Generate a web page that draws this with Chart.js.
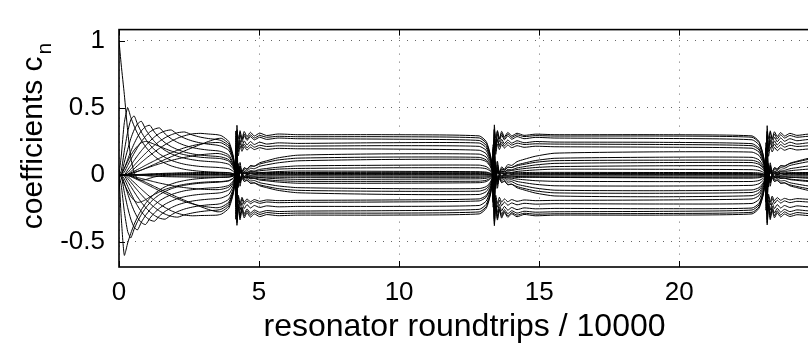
<!DOCTYPE html>
<html lang="en">
<head>
    <meta charset="UTF-8">
    <title>coefficients c_n</title>
    <script src="https://cdn.jsdelivr.net/npm/chart.js"></script>
    <style>
        html, body { margin: 0; padding: 0; background: #fff; overflow: hidden; }
        #grafico { display: block; }
    </style>
</head>
<body>
<canvas id="grafico" width="812" height="343"></canvas>

<script>
// x positions (resonator roundtrips / 10000), shared by every coefficient
const roundtrips = [0, 0.08, 0.19, 0.31, 0.42, 0.54, 0.66, 0.80, 0.95, 1.10, 1.27, 1.45, 1.65, 1.87, 2.10, 2.35, 2.62, 2.90, 3.20, 3.50,
    3.67, 3.92, 4.07, 4.14, 4.17, 4.21, 4.26, 4.32, 4.39, 4.47, 4.57, 4.69, 4.83, 5.02, 5.27, 5.67, 6.37,
    9.5,
    12.86, 13.11, 13.26, 13.33, 13.36, 13.40, 13.45, 13.51, 13.58, 13.66, 13.76, 13.88, 14.02, 14.21, 14.46, 14.86, 15.56,
    19.3,
    22.60, 22.85, 23.00, 23.07, 23.10, 23.14, 23.19, 23.25, 23.32, 23.40, 23.50, 23.62, 23.76, 23.95, 24.20, 24.60, 25.30];

// coefficient values (one array per coefficient)
const c0 = [1.0, 0.82, 0.6, 0.33, 0.13, 0.02, -0.03, -0.04, -0.035, -0.025, -0.015, -0.008, -0.004, -0.001, 0.001, 0.002, 0.003, 0.003, 0.004, 0.004,
    0.004, 0.003, 0.002, 0.001, -0.03, 0.05, -0.02, 0.02, 0.0, 0.01, 0.004, 0.008, 0.005, 0.006, 0.005, 0.005, 0.005,
    0.005,
    0.005, 0.004, 0.002, 0.001, -0.035, 0.045, -0.018, 0.018, 0.001, 0.009, 0.004, 0.007, 0.005, 0.006, 0.005, 0.005, 0.005,
    0.005,
    0.005, 0.004, 0.002, 0.001, -0.03, 0.05, -0.02, 0.02, 0.0, 0.01, 0.004, 0.008, 0.005, 0.006, 0.005, 0.005, 0.005];
const c1 = [0, -0.316, -0.60, -0.508, -0.436, -0.37, -0.314, -0.26, -0.213, -0.175, -0.14, -0.112, -0.088, -0.068, -0.053, -0.042, -0.033, -0.027, -0.023, -0.02,
    -0.019, -0.017, -0.01, -0.003, 0.03, -0.07, 0.021, -0.021, -0.004, -0.012, -0.009, -0.016, -0.015, -0.02, -0.024, -0.029, -0.033,
    -0.032,
    -0.029, -0.025, -0.015, -0.005, 0.045, -0.04, 0.012, -0.012, -0.002, -0.007, -0.005, -0.009, -0.008, -0.012, -0.014, -0.016, -0.019,
    -0.022,
    -0.024, -0.021, -0.013, -0.004, 0.038, -0.06, 0.018, -0.018, -0.003, -0.011, -0.008, -0.014, -0.013, -0.017, -0.02, -0.025, -0.029];
const c2 = [0, 0.14, 0.39, 0.5, 0.43, 0.364, 0.309, 0.256, 0.21, 0.172, 0.138, 0.11, 0.086, 0.067, 0.053, 0.041, 0.033, 0.027, 0.023, 0.02,
    0.019, 0.017, 0.01, 0.003, -0.03, 0.06, -0.018, 0.018, 0.003, 0.011, 0.008, 0.014, 0.013, 0.017, 0.02, 0.025, 0.029,
    0.027,
    0.024, 0.021, 0.013, 0.004, -0.038, 0.09, -0.027, 0.027, 0.005, 0.016, 0.011, 0.02, 0.019, 0.026, 0.031, 0.037, 0.043,
    0.042,
    0.039, 0.033, 0.02, 0.007, -0.06, 0.04, -0.012, 0.012, 0.002, 0.007, 0.005, 0.009, 0.008, 0.012, 0.014, 0.016, 0.019];
const c3 = [0, -0.077, -0.273, -0.422, -0.47, -0.404, -0.348, -0.294, -0.247, -0.209, -0.175, -0.147, -0.123, -0.103, -0.088, -0.077, -0.068, -0.062, -0.058, -0.055,
    -0.052, -0.045, -0.027, -0.009, 0.081, -0.2, 0.06, -0.06, -0.01, -0.035, -0.025, -0.045, -0.042, -0.058, -0.068, -0.082, -0.095,
    -0.102,
    -0.102, -0.087, -0.053, -0.018, 0.158, -0.17, 0.051, -0.051, -0.009, -0.03, -0.021, -0.038, -0.036, -0.049, -0.058, -0.07, -0.081,
    -0.083,
    -0.078, -0.066, -0.04, -0.014, 0.12, -0.2, 0.06, -0.06, -0.01, -0.035, -0.025, -0.045, -0.042, -0.058, -0.068, -0.082, -0.095];
const c4 = [0, 0.03, 0.18, 0.32, 0.41, 0.44, 0.379, 0.319, 0.267, 0.225, 0.187, 0.156, 0.13, 0.108, 0.092, 0.079, 0.07, 0.063, 0.059, 0.056,
    0.053, 0.046, 0.028, 0.009, -0.083, 0.22, -0.066, 0.066, 0.011, 0.039, 0.028, 0.05, 0.046, 0.064, 0.075, 0.09, 0.105,
    0.115,
    0.116, 0.1, 0.06, 0.02, -0.18, 0.18, -0.054, 0.054, 0.009, 0.032, 0.023, 0.041, 0.038, 0.052, 0.061, 0.074, 0.086,
    0.092,
    0.092, 0.079, 0.048, 0.016, -0.143, 0.24, -0.072, 0.072, 0.012, 0.042, 0.03, 0.054, 0.05, 0.07, 0.082, 0.098, 0.114];
const c5 = [0, -0.011, -0.129, -0.244, -0.329, -0.39, -0.41, -0.352, -0.302, -0.261, -0.224, -0.193, -0.168, -0.147, -0.131, -0.118, -0.11, -0.103, -0.098, -0.095,
    -0.091, -0.078, -0.047, -0.016, 0.063, -0.338, -0.216, -0.302, -0.238, -0.289, -0.254, -0.284, -0.262, -0.279, -0.266, -0.273, -0.27,
    -0.267,
    -0.257, -0.22, -0.133, -0.045, 0.178, -0.313, -0.2, -0.28, -0.22, -0.268, -0.235, -0.263, -0.243, -0.259, -0.246, -0.253, -0.25,
    -0.252,
    -0.247, -0.212, -0.128, -0.043, 0.171, -0.331, -0.212, -0.297, -0.233, -0.284, -0.249, -0.278, -0.257, -0.274, -0.261, -0.268, -0.265];
const c6 = [0, 0, 0.095, 0.19, 0.27, 0.336, 0.38, 0.40, 0.34, 0.292, 0.248, 0.212, 0.182, 0.157, 0.138, 0.124, 0.113, 0.105, 0.1, 0.096,
    0.092, 0.079, 0.048, 0.016, -0.064, 0.332, 0.197, 0.297, 0.243, 0.292, 0.257, 0.286, 0.261, 0.281, 0.265, 0.275, 0.27,
    0.267,
    0.257, 0.22, 0.133, 0.045, -0.178, 0.301, 0.179, 0.27, 0.221, 0.265, 0.233, 0.26, 0.237, 0.255, 0.24, 0.249, 0.245,
    0.243,
    0.233, 0.199, 0.12, 0.041, -0.161, 0.32, 0.19, 0.286, 0.234, 0.281, 0.247, 0.276, 0.251, 0.27, 0.255, 0.264, 0.26];
const c7 = [0, 0, -0.061, -0.14, -0.206, -0.269, -0.318, -0.356, -0.37, -0.324, -0.282, -0.248, -0.218, -0.195, -0.176, -0.162, -0.152, -0.145, -0.14, -0.136,
    -0.131, -0.112, -0.068, -0.023, 0.203, -0.13, 0.039, -0.039, -0.007, -0.023, -0.016, -0.029, -0.027, -0.038, -0.044, -0.053, -0.062,
    -0.062,
    -0.058, -0.05, -0.03, -0.01, 0.09, -0.24, 0.072, -0.072, -0.012, -0.042, -0.03, -0.054, -0.05, -0.07, -0.082, -0.098, -0.114,
    -0.118,
    -0.112, -0.095, -0.058, -0.02, 0.173, -0.12, 0.036, -0.036, -0.006, -0.021, -0.015, -0.027, -0.025, -0.035, -0.041, -0.049, -0.057];
const c8 = [0, 0, 0.047, 0.115, 0.175, 0.233, 0.283, 0.329, 0.36, 0.37, 0.318, 0.276, 0.239, 0.21, 0.188, 0.17, 0.157, 0.148, 0.142, 0.138,
    0.133, 0.114, 0.069, 0.023, -0.206, 0.14, -0.042, 0.042, 0.007, 0.025, 0.018, 0.032, 0.029, 0.041, 0.048, 0.057, 0.067,
    0.072,
    0.073, 0.062, 0.038, 0.013, -0.113, 0.26, -0.078, 0.078, 0.013, 0.046, 0.033, 0.059, 0.055, 0.075, 0.088, 0.107, 0.124,
    0.132,
    0.131, 0.112, 0.068, 0.023, -0.203, 0.16, -0.048, 0.048, 0.008, 0.028, 0.02, 0.036, 0.034, 0.046, 0.054, 0.066, 0.076];
const c9 = [0, 0, -0.029, -0.085, -0.134, -0.185, -0.23, -0.275, -0.312, -0.336, -0.345, -0.305, -0.272, -0.244, -0.223, -0.207, -0.195, -0.187, -0.181, -0.177,
    -0.171, -0.146, -0.088, -0.03, 0.118, -0.256, -0.164, -0.23, -0.18, -0.219, -0.193, -0.215, -0.199, -0.212, -0.202, -0.207, -0.205,
    -0.202,
    -0.194, -0.166, -0.1, -0.034, 0.134, -0.269, -0.172, -0.241, -0.189, -0.23, -0.202, -0.226, -0.209, -0.223, -0.212, -0.218, -0.215,
    -0.217,
    -0.213, -0.183, -0.11, -0.037, 0.147, -0.25, -0.16, -0.224, -0.176, -0.214, -0.188, -0.21, -0.194, -0.207, -0.197, -0.202, -0.20];
const c10 = [0, 0, 0.021, 0.071, 0.115, 0.161, 0.204, 0.249, 0.289, 0.32, 0.342, 0.35, 0.305, 0.269, 0.241, 0.22, 0.204, 0.193, 0.185, 0.18,
    0.173, 0.148, 0.089, 0.03, -0.119, 0.24, 0.142, 0.215, 0.176, 0.211, 0.185, 0.207, 0.189, 0.203, 0.191, 0.198, 0.195,
    0.193,
    0.184, 0.158, 0.095, 0.032, -0.127, 0.258, 0.153, 0.231, 0.189, 0.227, 0.2, 0.223, 0.203, 0.218, 0.206, 0.214, 0.21,
    0.207,
    0.199, 0.17, 0.103, 0.035, -0.137, 0.234, 0.139, 0.209, 0.171, 0.205, 0.181, 0.201, 0.184, 0.198, 0.186, 0.193, 0.19];
const c11 = [0, 0, -0.007, -0.049, -0.086, -0.126, -0.164, -0.205, -0.243, -0.275, -0.303, -0.323, -0.33, -0.298, -0.273, -0.254, -0.24, -0.23, -0.223, -0.219,
    -0.211, -0.181, -0.109, -0.037, 0.327, -0.28, 0.084, -0.084, -0.014, -0.049, -0.035, -0.063, -0.059, -0.081, -0.095, -0.115, -0.133,
    -0.145,
    -0.146, -0.125, -0.075, -0.026, 0.225, -0.33, 0.099, -0.099, -0.017, -0.058, -0.041, -0.074, -0.069, -0.096, -0.112, -0.135, -0.157,
    -0.163,
    -0.155, -0.133, -0.08, -0.027, 0.24, -0.28, 0.084, -0.084, -0.014, -0.049, -0.035, -0.063, -0.059, -0.081, -0.095, -0.115, -0.133];
const c12 = [0, 0, 0, 0.037, 0.071, 0.108, 0.143, 0.181, 0.218, 0.252, 0.284, 0.31, 0.328, 0.335, 0.30, 0.273, 0.253, 0.239, 0.229, 0.222,
    0.213, 0.183, 0.11, 0.037, -0.33, 0.31, -0.093, 0.093, 0.016, 0.054, 0.039, 0.07, 0.065, 0.09, 0.105, 0.127, 0.147,
    0.157,
    0.155, 0.133, 0.08, 0.027, -0.24, 0.34, -0.102, 0.102, 0.017, 0.06, 0.043, 0.077, 0.071, 0.099, 0.116, 0.139, 0.162,
    0.172,
    0.17, 0.145, 0.088, 0.03, -0.263, 0.30, -0.09, 0.09, 0.015, 0.053, 0.038, 0.068, 0.063, 0.087, 0.102, 0.123, 0.143];
const c13 = [0, 0, 0, -0.026, -0.054, -0.085, -0.115, -0.148, -0.182, -0.212, -0.243, -0.27, -0.293, -0.309, -0.315, -0.297, -0.284, -0.274, -0.267, -0.263,
    -0.254, -0.217, -0.131, -0.045, 0.176, -0.294, -0.188, -0.263, -0.207, -0.251, -0.221, -0.247, -0.228, -0.243, -0.231, -0.238, -0.235,
    -0.235,
    -0.228, -0.195, -0.118, -0.04, 0.157, -0.344, -0.22, -0.308, -0.242, -0.294, -0.259, -0.289, -0.267, -0.285, -0.271, -0.278, -0.275,
    -0.272,
    -0.262, -0.224, -0.135, -0.046, 0.181, -0.294, -0.188, -0.263, -0.207, -0.251, -0.221, -0.247, -0.228, -0.243, -0.231, -0.238, -0.235];
const c14 = [0, 0, 0, 0.017, 0.043, 0.071, 0.099, 0.13, 0.161, 0.191, 0.222, 0.251, 0.278, 0.30, 0.315, 0.32, 0.298, 0.282, 0.271, 0.264,
    0.254, 0.217, 0.131, 0.045, -0.176, 0.289, 0.172, 0.259, 0.212, 0.254, 0.223, 0.249, 0.227, 0.244, 0.23, 0.239, 0.235,
    0.24,
    0.238, 0.203, 0.123, 0.042, -0.164, 0.338, 0.201, 0.303, 0.248, 0.297, 0.261, 0.292, 0.266, 0.286, 0.27, 0.28, 0.275,
    0.272,
    0.262, 0.224, 0.135, 0.046, -0.181, 0.289, 0.172, 0.259, 0.212, 0.254, 0.223, 0.249, 0.227, 0.244, 0.23, 0.239, 0.235];
const c15 = [0, 0, 0, -0.01, -0.033, -0.056, -0.08, -0.107, -0.135, -0.162, -0.19, -0.217, -0.244, -0.268, -0.287, -0.30, -0.305, -0.303, -0.302, -0.30,
    -0.291, -0.249, -0.15, -0.051, 0.201, -0.375, -0.24, -0.336, -0.264, -0.321, -0.282, -0.315, -0.291, -0.311, -0.296, -0.304, -0.30,
    -0.30,
    -0.291, -0.249, -0.15, -0.051, 0.205, -0.378, -0.238, -0.337, -0.262, -0.322, -0.281, -0.316, -0.29, -0.312, -0.295, -0.305, -0.30,
    -0.30,
    -0.291, -0.249, -0.15, -0.051, 0.199, -0.372, -0.242, -0.334, -0.265, -0.32, -0.283, -0.314, -0.292, -0.31, -0.297, -0.303, -0.30];
const c16 = [0, 0, 0, 0.004, 0.024, 0.046, 0.069, 0.094, 0.12, 0.145, 0.172, 0.199, 0.226, 0.252, 0.275, 0.293, 0.306, 0.31, 0.305, 0.30,
    0.291, 0.249, 0.15, 0.051, -0.201, 0.369, 0.219, 0.33, 0.27, 0.324, 0.285, 0.318, 0.29, 0.312, 0.294, 0.305, 0.30,
    0.30,
    0.291, 0.249, 0.15, 0.051, -0.205, 0.372, 0.222, 0.331, 0.268, 0.325, 0.284, 0.317, 0.291, 0.311, 0.295, 0.304, 0.30,
    0.30,
    0.291, 0.249, 0.15, 0.051, -0.2, 0.366, 0.218, 0.329, 0.271, 0.322, 0.286, 0.316, 0.29, 0.31, 0.295, 0.304, 0.30];
const c17 = [0, 0, 0, 0, 0.001, 0.002, 0.003, 0.004, 0.005, 0.006, 0.007, 0.008, 0.009, 0.009, 0.01, 0.01, 0.01, 0.01, 0.01, 0.01,
    0.01, 0.008, 0.005, 0.002, -0.06, 0.09, -0.03, 0.03, 0.0, 0.012, 0.006, 0.012, 0.009, 0.011, 0.01, 0.01, 0.01,
    0.011,
    0.011, 0.009, 0.005, 0.002, -0.065, 0.085, -0.028, 0.028, 0.001, 0.013, 0.007, 0.012, 0.01, 0.012, 0.011, 0.011, 0.011,
    0.01,
    0.01, 0.008, 0.005, 0.002, -0.06, 0.09, -0.03, 0.03, 0.0, 0.012, 0.006, 0.012, 0.009, 0.011, 0.01, 0.01, 0.01];
const c18 = [0, 0, 0, 0, -0.001, -0.002, -0.003, -0.004, -0.005, -0.006, -0.007, -0.007, -0.008, -0.008, -0.008, -0.008, -0.008, -0.008, -0.008, -0.008,
    -0.008, -0.007, -0.004, -0.001, 0.07, -0.1, 0.035, -0.03, 0.0, -0.012, -0.005, -0.01, -0.007, -0.009, -0.008, -0.008, -0.008,
    -0.009,
    -0.009, -0.008, -0.005, -0.001, 0.075, -0.095, 0.033, -0.032, 0.0, -0.013, -0.006, -0.011, -0.008, -0.01, -0.009, -0.009, -0.009,
    -0.008,
    -0.008, -0.007, -0.004, -0.001, 0.07, -0.1, 0.035, -0.03, 0.0, -0.012, -0.005, -0.01, -0.007, -0.009, -0.008, -0.008, -0.008];
const c19 = [0, 0, 0, 0, 0, 0, 0, 0.001, 0.002, 0.002, 0.003, 0.003, 0.003, 0.002, 0.002, 0.001, 0.001, 0, 0, 0,
    0, 0, 0, 0, 0.12, -0.15, 0.05, -0.04, 0.01, -0.01, 0.004, -0.004, 0.002, -0.001, 0, 0, 0,
    0,
    0, 0, 0, 0, 0.12, -0.15, 0.05, -0.04, 0.01, -0.01, 0.004, -0.004, 0.002, -0.001, 0, 0, 0,
    0,
    0, 0, 0, 0, 0.12, -0.15, 0.05, -0.04, 0.01, -0.01, 0.004, -0.004, 0.002, -0.001, 0, 0, 0];
const c20 = [0, 0, 0, 0.005, 0.015, 0.027, 0.04, 0.055, 0.072, 0.088, 0.106, 0.125, 0.145, 0.165, 0.185, 0.203, 0.218, 0.23, 0.238, 0.242,
    0.238, 0.203, 0.123, 0.042, -0.164, 0.247, 0.204, 0.241, 0.198, 0.23, 0.202, 0.226, 0.207, 0.221, 0.212, 0.217, 0.215,
    0.218,
    0.213, 0.183, 0.11, 0.037, -0.147, 0.265, 0.219, 0.258, 0.212, 0.246, 0.216, 0.242, 0.222, 0.237, 0.227, 0.232, 0.23,
    0.227,
    0.218, 0.187, 0.113, 0.038, -0.151, 0.247, 0.204, 0.241, 0.198, 0.23, 0.202, 0.226, 0.207, 0.221, 0.212, 0.217, 0.215];
const c21 = [0, 0, 0, 0.003, 0.01, 0.018, 0.027, 0.037, 0.048, 0.059, 0.071, 0.083, 0.096, 0.108, 0.12, 0.131, 0.141, 0.15, 0.156, 0.16,
    0.155, 0.133, 0.08, 0.027, -0.24, 0.08, -0.02, 0.025, 0.01, 0.02, 0.018, 0.025, 0.025, 0.031, 0.036, 0.043, 0.048,
    0.053,
    0.053, 0.046, 0.028, 0.009, -0.083, 0.104, -0.026, 0.033, 0.013, 0.026, 0.023, 0.033, 0.033, 0.04, 0.047, 0.055, 0.062,
    0.068,
    0.068, 0.058, 0.035, 0.012, -0.105, 0.08, -0.02, 0.025, 0.01, 0.02, 0.018, 0.025, 0.025, 0.031, 0.036, 0.043, 0.048];
const c22 = [0, 0, 0, -0.004, -0.013, -0.024, -0.036, -0.05, -0.066, -0.082, -0.1, -0.119, -0.139, -0.16, -0.18, -0.199, -0.216, -0.23, -0.24, -0.245,
    -0.238, -0.203, -0.123, -0.042, 0.164, -0.238, -0.152, -0.213, -0.167, -0.203, -0.179, -0.2, -0.184, -0.197, -0.187, -0.192, -0.19,
    -0.187,
    -0.179, -0.154, -0.093, -0.031, 0.124, -0.238, -0.152, -0.213, -0.167, -0.203, -0.179, -0.2, -0.184, -0.197, -0.187, -0.192, -0.19,
    -0.187,
    -0.179, -0.154, -0.093, -0.031, 0.124, -0.225, -0.144, -0.202, -0.158, -0.193, -0.169, -0.189, -0.175, -0.186, -0.177, -0.182, -0.18];
const c23 = [0, 0, 0, -0.002, -0.007, -0.013, -0.02, -0.027, -0.035, -0.043, -0.052, -0.061, -0.07, -0.079, -0.088, -0.095, -0.101, -0.106, -0.109, -0.11,
    -0.107, -0.091, -0.055, -0.019, 0.165, -0.192, 0.048, -0.06, -0.024, -0.048, -0.042, -0.06, -0.06, -0.074, -0.086, -0.102, -0.115,
    -0.122,
    -0.121, -0.104, -0.063, -0.021, 0.188, -0.08, 0.02, -0.025, -0.01, -0.02, -0.018, -0.025, -0.025, -0.031, -0.036, -0.043, -0.048,
    -0.05,
    -0.049, -0.042, -0.025, -0.009, 0.075, -0.192, 0.048, -0.06, -0.024, -0.048, -0.042, -0.06, -0.06, -0.074, -0.086, -0.102, -0.115];
const c24 = [0, 0, 0, 0.002, 0.008, 0.016, 0.025, 0.036, 0.05, 0.064, 0.08, 0.097, 0.116, 0.136, 0.157, 0.18, 0.203, 0.226, 0.25, 0.27,
    0.272, 0.232, 0.14, 0.048, -0.188, 0.328, 0.271, 0.319, 0.262, 0.305, 0.268, 0.299, 0.275, 0.294, 0.281, 0.288, 0.285,
    0.285,
    0.276, 0.237, 0.143, 0.048, -0.191, 0.334, 0.276, 0.325, 0.267, 0.31, 0.273, 0.305, 0.28, 0.299, 0.286, 0.293, 0.29,
    0.29,
    0.281, 0.241, 0.145, 0.049, -0.194, 0.328, 0.271, 0.319, 0.262, 0.305, 0.268, 0.299, 0.275, 0.294, 0.281, 0.288, 0.285];
const c25 = [0, 0, 0, -0.003, -0.01, -0.019, -0.029, -0.041, -0.055, -0.07, -0.087, -0.105, -0.125, -0.146, -0.168, -0.19, -0.213, -0.236, -0.258, -0.275,
    -0.272, -0.232, -0.14, -0.048, 0.188, -0.356, -0.228, -0.319, -0.251, -0.305, -0.268, -0.299, -0.276, -0.295, -0.281, -0.288, -0.285,
    -0.285,
    -0.276, -0.237, -0.143, -0.048, 0.191, -0.363, -0.232, -0.325, -0.255, -0.31, -0.273, -0.305, -0.281, -0.3, -0.286, -0.293, -0.29,
    -0.288,
    -0.279, -0.239, -0.144, -0.049, 0.193, -0.356, -0.228, -0.319, -0.251, -0.305, -0.268, -0.299, -0.276, -0.295, -0.281, -0.288, -0.285];
const c26 = [0, 0.01, 0.05, 0.1, 0.145, 0.185, 0.215, 0.24, 0.25, 0.242, 0.228, 0.212, 0.195, 0.178, 0.163, 0.15, 0.14, 0.132, 0.127, 0.124,
    0.12, 0.103, 0.062, 0.021, -0.186, 0.208, -0.052, 0.065, 0.026, 0.052, 0.046, 0.065, 0.065, 0.081, 0.094, 0.111, 0.125,
    0.133,
    0.131, 0.112, 0.068, 0.023, -0.203, 0.176, -0.044, 0.055, 0.022, 0.044, 0.039, 0.055, 0.055, 0.068, 0.079, 0.094, 0.106,
    0.11,
    0.109, 0.093, 0.056, 0.019, -0.168, 0.216, -0.054, 0.068, 0.027, 0.054, 0.047, 0.068, 0.068, 0.084, 0.097, 0.115, 0.13];
const c27 = [0, -0.02, -0.07, -0.12, -0.16, -0.19, -0.205, -0.2, -0.185, -0.165, -0.145, -0.126, -0.108, -0.093, -0.08, -0.07, -0.062, -0.056, -0.052, -0.05,
    -0.049, -0.042, -0.025, -0.009, 0.075, -0.08, 0.02, -0.025, -0.01, -0.02, -0.018, -0.025, -0.025, -0.031, -0.036, -0.043, -0.048,
    -0.048,
    -0.047, -0.04, -0.024, -0.008, 0.072, -0.224, 0.056, -0.07, -0.028, -0.056, -0.049, -0.07, -0.07, -0.087, -0.101, -0.119, -0.134,
    -0.137,
    -0.131, -0.112, -0.068, -0.023, 0.203, -0.08, 0.02, -0.025, -0.01, -0.02, -0.018, -0.025, -0.025, -0.031, -0.036, -0.043, -0.048];
const c28 = [0, 0, 0, 0, 0, 0.001, 0.002, 0.003, 0.004, 0.006, 0.008, 0.01, 0.012, 0.013, 0.015, 0.016, 0.017, 0.018, 0.018, 0.018,
    0.017, 0.015, 0.009, 0.003, -0.09, 0.12, -0.04, 0.04, 0.005, 0.022, 0.012, 0.021, 0.016, 0.019, 0.017, 0.018, 0.018,
    0.019,
    0.019, 0.016, 0.01, 0.003, -0.085, 0.11, -0.035, 0.038, 0.006, 0.023, 0.013, 0.022, 0.017, 0.02, 0.018, 0.019, 0.019,
    0.018,
    0.017, 0.015, 0.009, 0.003, -0.09, 0.12, -0.04, 0.04, 0.005, 0.022, 0.012, 0.021, 0.016, 0.019, 0.017, 0.018, 0.018];
const c29 = [0, 0, 0, 0, 0, -0.001, -0.002, -0.003, -0.005, -0.007, -0.009, -0.011, -0.013, -0.014, -0.015, -0.016, -0.017, -0.018, -0.018, -0.018,
    -0.017, -0.015, -0.009, -0.003, 0.1, -0.13, 0.045, -0.045, -0.005, -0.023, -0.012, -0.021, -0.016, -0.019, -0.017, -0.018, -0.018,
    -0.018,
    -0.018, -0.016, -0.01, -0.003, 0.095, -0.125, 0.042, -0.043, -0.006, -0.022, -0.013, -0.02, -0.017, -0.019, -0.018, -0.018, -0.018,
    -0.018,
    -0.017, -0.015, -0.009, -0.003, 0.1, -0.13, 0.045, -0.045, -0.005, -0.023, -0.012, -0.021, -0.016, -0.019, -0.017, -0.018, -0.018];

const coeficientes = [c0, c1, c2, c3, c4, c5, c6, c7, c8, c9, c10, c11, c12, c13, c14,
    c15, c16, c17, c18, c19, c20, c21, c22, c23, c24, c25, c26, c27, c28, c29];

// axis ticks
const xTicks = [0, 5, 10, 15, 20];
const yTicks = [-0.5, 0, 0.5, 1];

const fuente = '"Liberation Sans", Arial, Helvetica, sans-serif';
Chart.defaults.font.family = fuente;
Chart.defaults.color = '#000';

// box round the plot with short inward ticks, like the original figure
const marco = {
    id: 'marco',
    afterDraw(chart) {
        const ctx = chart.ctx;
        const a = chart.chartArea;
        const sx = chart.scales.x, sy = chart.scales.y;
        ctx.save();
        ctx.strokeStyle = '#000';
        ctx.lineWidth = 1;
        xTicks.forEach(v => {
            const px = Math.round(sx.getPixelForValue(v)) + 0.5;
            ctx.beginPath();
            ctx.moveTo(px, a.bottom); ctx.lineTo(px, a.bottom - 6);
            ctx.moveTo(px, a.top); ctx.lineTo(px, a.top + 6);
            ctx.stroke();
        });
        yTicks.forEach(v => {
            const py = Math.round(sy.getPixelForValue(v)) + 0.5;
            ctx.beginPath();
            ctx.moveTo(a.left, py); ctx.lineTo(a.left + 6, py);
            ctx.stroke();
        });
        ctx.lineWidth = 1.6;
        ctx.strokeRect(a.left, a.top, a.right - a.left, a.bottom - a.top);

        // y title with subscript n
        ctx.fillStyle = '#000';
        ctx.font = '30px ' + fuente;
        const t1 = 'coefficients c';
        const w1 = ctx.measureText(t1).width;
        ctx.font = '21px ' + fuente;
        const w2 = ctx.measureText('n').width;
        ctx.translate(42, 136);
        ctx.rotate(-Math.PI / 2);
        ctx.textBaseline = 'alphabetic';
        ctx.textAlign = 'left';
        const x0 = -(w1 + w2 + 2) / 2;
        ctx.font = '30px ' + fuente;
        ctx.fillText(t1, x0, 0);
        ctx.font = '21px ' + fuente;
        ctx.fillText('n', x0 + w1 + 2, 9);
        ctx.restore();
    }
};

const ctx = document.getElementById('grafico').getContext('2d');
new Chart(ctx, {
    type: 'line',
    data: {
        datasets: coeficientes.map(serie => ({
            data: roundtrips.map((x, i) => ({ x: x, y: serie[i] })),
            borderColor: '#000',
            borderWidth: 1,
            pointRadius: 0,
            tension: 0.2,
            fill: false
        }))
    },
    options: {
        responsive: false,
        animation: false,
        devicePixelRatio: 1,
        events: [],
        layout: { padding: { top: 7, right: 2, left: 0, bottom: 0 } },
        plugins: { legend: { display: false }, tooltip: { enabled: false } },
        scales: {
            x: {
                type: 'linear',
                min: 0,
                max: 24.67,
                afterBuildTicks: s => { s.ticks = xTicks.map(v => ({ value: v })); },
                afterFit: s => { s.height = 76; },
                ticks: { font: { size: 26 }, color: '#000', padding: 10, maxRotation: 0, autoSkip: false },
                grid: { color: 'rgba(0,0,0,0.6)', lineWidth: 1, drawTicks: false },
                border: { display: false, dash: [1, 7] },
                title: {
                    display: true,
                    text: 'resonator roundtrips / 10000',
                    font: { size: 32, lineHeight: 1 },
                    color: '#000',
                    padding: { top: 0, bottom: 0 }
                }
            },
            y: {
                min: -0.687,
                max: 1.084,
                afterBuildTicks: s => { s.ticks = yTicks.map(v => ({ value: v })); },
                afterFit: s => { s.width = 119; },
                ticks: { font: { size: 26 }, color: '#000', padding: 14, callback: v => String(v) },
                grid: { color: 'rgba(0,0,0,0.6)', lineWidth: 1, drawTicks: false },
                border: { display: false, dash: [1, 7] }
            }
        }
    },
    plugins: [marco]
});
</script>
</body>
</html>
